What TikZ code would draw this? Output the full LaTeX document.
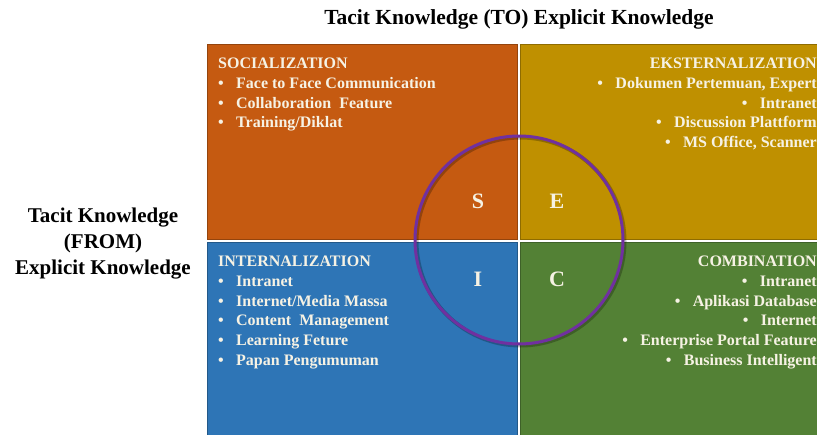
\documentclass[tikz,border=0pt]{standalone}
\usepackage{fontspec}
\setmainfont{Liberation Serif}
\usetikzlibrary{positioning}
\definecolor{socorange}{RGB}{197, 90, 17}
\definecolor{eksgold}{RGB}{191, 144, 0}
\definecolor{intblue}{RGB}{46, 117, 182}
\definecolor{comgreen}{RGB}{83, 129, 53}
\definecolor{cyclepurple}{RGB}{112, 48, 160}
\definecolor{paletext}{RGB}{246, 242, 228}
\newcommand{\itm}[1]{\makebox[18pt][l]{\textbullet}#1}

\begin{document}
\begin{tikzpicture}[
    x=1pt, y=-1pt,
    quad/.style={draw=#1!75!black, line width=1.2pt, fill=#1, anchor=north west, minimum width=310pt, minimum height=195pt, inner sep=0pt},
    wquad/.style={quad=#1, minimum width=330pt},
    list/.style={text=paletext, font=\bfseries\fontsize{16}{19.7}\selectfont, inner sep=0pt},
    letter/.style={text=paletext, font=\bfseries\fontsize{22}{22}\selectfont, inner sep=0pt},
    caption/.style={text=black, font=\bfseries\fontsize{#1}{26}\selectfont, align=center, inner sep=0pt}
]
\useasboundingbox (0,0) rectangle (817,434);
\clip (0,0) rectangle (817,434);

% Quadrants
\node[quad=socorange] (soc) at (207,44) {};
\node[wquad=eksgold] (eks) at (520,44) {};
\node[quad=intblue, minimum height=200pt] (int) at (207,242) {};
\node[wquad=comgreen, minimum height=200pt] (com) at (520,242) {};

% Lists
\node[list, anchor=north west, align=left] (soclist) at (218,58) {SOCIALIZATION\\
    \itm{Face to Face Communication}\\
    \itm{Collaboration\ \ Feature}\\
    \itm{Training/Diklat}};
\node[list, anchor=north east, align=right] (ekslist) at (817,58) {EKSTERNALIZATION\\
    \itm{Dokumen Pertemuan, Expert}\\
    \itm{Intranet}\\
    \itm{Discussion Plattform}\\
    \itm{MS Office, Scanner}};
\node[list, anchor=north west, align=left] (intlist) at (218,256) {INTERNALIZATION\\
    \itm{Intranet}\\
    \itm{Internet/Media Massa}\\
    \itm{Content\ \ Management}\\
    \itm{Learning Feture}\\
    \itm{Papan Pengumuman}};
\node[list, anchor=north east, align=right] (comlist) at (817,256) {COMBINATION\\
    \itm{Intranet}\\
    \itm{Aplikasi Database}\\
    \itm{Internet}\\
    \itm{Enterprise Portal Feature}\\
    \itm{Business Intelligent}};

% Cycle
\draw[black, opacity=0.25, line width=4pt] (520.5,241.5) circle (104);
\node[circle, draw=cyclepurple, line width=3pt, minimum size=208pt, inner sep=0pt] (cycle) at (519,240) {};
\node[letter] (s) at (478,201) {S};
\node[letter] (e) at (557,201) {E};
\node[letter] (i) at (478,279) {I};
\node[letter] (c) at (557,279) {C};

% Captions
\node[caption=21.5] (title) at (519,19) {Tacit Knowledge (TO) Explicit Knowledge};
\node[caption=21] (side) at (103,244) {Tacit Knowledge\\(FROM)\\Explicit Knowledge};

\end{tikzpicture}
\end{document}
